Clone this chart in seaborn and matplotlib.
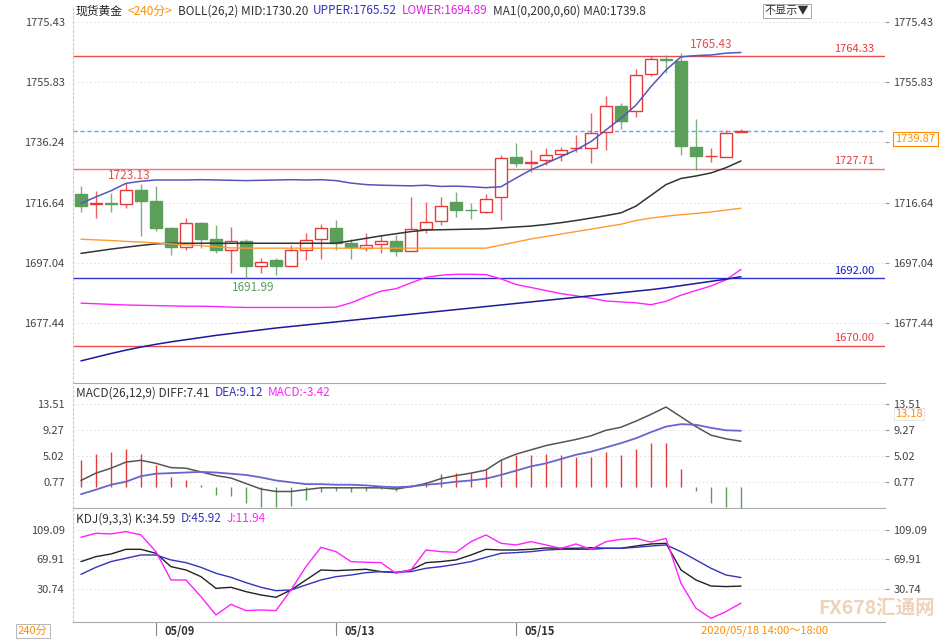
import numpy as np
import pandas as pd
import matplotlib
matplotlib.use("Agg")
import matplotlib.pyplot as plt
import seaborn as sns

sns.set_style("white")
plt.rcParams['font.family'] = ['Noto Sans CJK SC', 'DejaVu Sans']

# ---- candle data (240-minute bars) ----
opens = [1719.4, 1716.3, 1716.5, 1716.2, 1720.9, 1717.1, 1708.3, 1702.3, 1709.9, 1704.7,
         1701.2, 1704.0, 1696.1, 1697.9, 1696.1, 1701.2, 1704.7, 1708.3, 1703.4, 1701.8,
         1703.1, 1704.2, 1701.0, 1707.9, 1710.6, 1716.7, 1714.3, 1713.7, 1718.4, 1731.4,
         1729.5, 1730.5, 1732.5, 1734.3, 1734.3, 1739.7, 1748.1, 1746.5, 1758.4, 1763.4,
         1762.8, 1734.9, 1731.7, 1731.4, 1739.5]
closes = [1715.6, 1716.5, 1716.3, 1720.9, 1717.2, 1708.3, 1702.3, 1709.9, 1704.8, 1701.2,
          1704.0, 1696.0, 1697.2, 1696.1, 1701.2, 1704.5, 1708.3, 1703.6, 1702.3, 1702.9,
          1704.2, 1701.0, 1707.9, 1710.4, 1715.6, 1714.2, 1714.1, 1717.9, 1731.1, 1729.4,
          1729.8, 1732.1, 1733.8, 1734.5, 1739.4, 1748.1, 1743.2, 1758.2, 1763.3, 1763.1,
          1735.1, 1731.8, 1731.9, 1739.4, 1739.87]
highs = [1722.0, 1720.5, 1719.9, 1723.13, 1722.7, 1722.0, 1708.8, 1711.5, 1710.4, 1709.4,
         1708.6, 1704.7, 1698.5, 1698.5, 1702.8, 1706.9, 1709.7, 1711.0, 1704.8, 1706.6,
         1706.1, 1706.1, 1718.6, 1716.7, 1718.6, 1720.2, 1716.4, 1719.4, 1732.1, 1736.2,
         1733.8, 1734.3, 1734.9, 1738.6, 1745.7, 1751.3, 1749.0, 1760.0, 1764.4, 1764.7,
         1765.43, 1743.7, 1734.3, 1740.3, 1740.5]
lows = [1713.7, 1711.7, 1713.7, 1715.0, 1705.8, 1707.4, 1699.6, 1701.2, 1701.8, 1700.1,
        1693.8, 1691.99, 1693.8, 1693.1, 1696.1, 1698.0, 1698.2, 1701.2, 1698.2, 1701.0,
        1700.1, 1699.3, 1701.0, 1706.6, 1709.3, 1712.1, 1711.3, 1713.1, 1711.0, 1728.3,
        1726.7, 1728.9, 1730.3, 1733.2, 1729.6, 1733.8, 1740.5, 1744.4, 1757.9, 1758.7,
        1732.1, 1727.3, 1730.0, 1731.4, 1739.5]

boll_upper = [1716.4, 1718.5, 1720.5, 1722.9, 1723.6, 1724.0, 1724.0, 1724.0, 1724.1, 1724.0,
              1723.9, 1723.8, 1723.9, 1724.0, 1724.1, 1724.0, 1724.1, 1723.8, 1723.0, 1722.5,
              1722.3, 1722.2, 1722.1, 1722.3, 1721.9, 1722.0, 1721.8, 1721.5, 1721.8, 1724.6,
              1727.3, 1729.4, 1731.6, 1733.8, 1736.5, 1740.3, 1744.1, 1748.4, 1754.4, 1759.8,
              1764.1, 1764.5, 1764.7, 1765.3, 1765.52]
boll_mid = [1700.1, 1700.8, 1701.5, 1702.1, 1702.7, 1703.2, 1703.4, 1703.4, 1703.4, 1703.4,
            1703.4, 1703.4, 1703.4, 1703.4, 1703.4, 1703.4, 1703.4, 1703.4, 1704.2, 1705.0,
            1705.8, 1706.5, 1707.2, 1707.7, 1707.8, 1707.9, 1708.0, 1708.1, 1708.4, 1708.7,
            1709.0, 1709.5, 1710.1, 1710.8, 1711.6, 1712.4, 1713.3, 1715.5, 1719.0, 1722.5,
            1724.5, 1725.3, 1726.3, 1728.0, 1730.2]
boll_lower = [1683.9, 1683.7, 1683.5, 1683.3, 1683.2, 1683.1, 1683.0, 1682.9, 1682.9, 1682.8,
              1682.6, 1682.5, 1682.5, 1682.5, 1682.5, 1682.5, 1682.5, 1682.6, 1684.0, 1686.0,
              1687.8, 1688.6, 1690.5, 1692.3, 1693.0, 1693.3, 1693.3, 1693.2, 1691.8, 1690.0,
              1689.0, 1688.0, 1687.0, 1686.3, 1685.5, 1684.6, 1684.3, 1684.0, 1683.4, 1684.5,
              1686.5, 1688.0, 1689.5, 1691.5, 1694.89]
ma_orange = [1704.7, 1704.5, 1704.3, 1704.0, 1703.8, 1703.5, 1703.2, 1702.9, 1702.6, 1702.2,
             1701.9, 1701.8, 1701.8, 1701.8, 1701.8, 1701.8, 1701.8, 1701.8, 1701.8, 1701.8,
             1701.8, 1701.8, 1701.8, 1701.8, 1701.8, 1701.8, 1701.8, 1701.8, 1702.8, 1703.8,
             1704.8, 1705.6, 1706.4, 1707.2, 1708.0, 1708.8, 1709.6, 1710.8, 1711.6, 1712.2,
             1712.7, 1713.1, 1713.6, 1714.2, 1714.8]
ma_navy = [1665.1, 1666.3, 1667.5, 1668.6, 1669.6, 1670.5, 1671.3, 1672.0, 1672.7, 1673.4,
           1674.0, 1674.6, 1675.2, 1675.8, 1676.3, 1676.8, 1677.3, 1677.8, 1678.3, 1678.8,
           1679.3, 1679.8, 1680.3, 1680.8, 1681.3, 1681.8, 1682.3, 1682.8, 1683.3, 1683.8,
           1684.3, 1684.8, 1685.3, 1685.8, 1686.3, 1686.8, 1687.3, 1687.8, 1688.3, 1688.9,
           1689.6, 1690.3, 1691.0, 1691.7, 1692.5]

# ---- MACD ----
macd_hist = [4.3, 5.3, 5.6, 6.1, 5.4, 3.6, 1.5, 1.1, 0.2, -1.4,
             -1.6, -2.7, -3.3, -3.4, -3.1, -2.2, -0.9, -0.8, -0.9, -0.7,
             -0.4, -0.8, 0.3, 0.8, 2.0, 2.3, 2.3, 2.7, 4.3, 5.1,
             5.2, 5.3, 5.1, 4.8, 4.9, 5.6, 5.2, 6.1, 7.1, 7.1,
             2.8, -0.7, -2.7, -3.3, -3.42]
macd_diff = [1.0, 2.2, 3.0, 4.0, 4.3, 3.8, 3.1, 3.0, 2.4, 1.8,
             1.4, 0.5, -0.4, -0.8, -0.8, -0.5, -0.2, -0.2, -0.2, -0.2,
             -0.2, -0.4, 0.0, 0.5, 1.3, 1.8, 2.2, 2.7, 4.3, 5.3,
             6.0, 6.7, 7.2, 7.7, 8.3, 9.2, 9.7, 10.7, 11.8, 13.0,
             11.4, 9.8, 8.4, 7.8, 7.41]
macd_dea = [-1.25, -0.5, 0.3, 0.8, 1.7, 2.1, 2.2, 2.3, 2.4, 2.3,
            2.1, 1.9, 1.5, 1.0, 0.7, 0.4, 0.4, 0.3, 0.3, 0.2,
            0.0, -0.1, 0.0, 0.3, 0.5, 0.8, 1.0, 1.3, 1.9, 2.6,
            3.3, 3.8, 4.5, 5.2, 5.7, 6.4, 7.1, 7.9, 8.9, 9.8,
            10.2, 10.1, 9.6, 9.2, 9.12]

# ---- KDJ ----
kdj_k = [67.1, 73.7, 77.2, 83.4, 83.4, 78.1, 60.4, 56.0, 47.1, 31.6,
         33.0, 27.2, 22.8, 19.7, 29.4, 42.7, 56.0, 55.1, 56.0, 56.9,
         53.8, 52.4, 56.0, 65.7, 67.1, 69.3, 75.9, 83.4, 82.5, 82.5,
         83.4, 85.2, 84.8, 84.8, 85.6, 84.8, 84.8, 87.8, 90.5, 91.4,
         56.0, 42.7, 34.7, 33.9, 34.59]
kdj_d = [50.2, 59.5, 67.1, 71.5, 75.9, 75.9, 69.3, 65.7, 59.5, 51.6,
         46.2, 39.2, 33.0, 28.5, 29.4, 36.1, 42.7, 47.1, 49.3, 52.4,
         53.8, 52.9, 53.8, 58.2, 60.4, 63.5, 67.1, 72.8, 78.1, 79.0,
         80.3, 82.5, 83.4, 83.4, 83.4, 84.7, 84.7, 86.1, 87.8, 89.2,
         80.3, 69.3, 58.2, 49.3, 45.92]
kdj_j = [99.4, 104.7, 103.8, 106.9, 102.5, 80.3, 42.7, 42.7, 20.6, -3.8,
         10.4, 2.0, 2.9, 2.0, 29.4, 60.4, 86.1, 80.3, 67.1, 66.2,
         65.7, 51.6, 56.0, 82.5, 80.3, 79.4, 93.6, 102.5, 91.4, 89.2,
         93.6, 89.2, 84.7, 90.5, 83.4, 93.6, 96.7, 98.0, 93.0, 98.0,
         38.3, 5.1, -8.2, 0.7, 11.94]

price_ticks = [1775.43, 1755.83, 1736.24, 1716.64, 1697.04, 1677.44]
macd_ticks = [13.51, 9.27, 5.02, 0.77]
kdj_ticks = [109.09, 69.91, 30.74]
date_labels = ["05/09", "05/13", "05/15"]
date_pos = [5, 17, 29]

RED = "#e8393a"
GREEN = "#5b9f5b"
GREY = "#444444"

n = len(opens)
idx = np.arange(n)
df = pd.DataFrame({"i": idx, "o": opens, "c": closes, "h": highs, "l": lows,
                   "upper": boll_upper, "mid": boll_mid, "lower": boll_lower,
                   "ma1": ma_orange, "ma0": ma_navy, "macd": macd_hist,
                   "diff": macd_diff, "dea": macd_dea, "k": kdj_k, "d": kdj_d, "j": kdj_j})

W, H = 953, 640
fig = plt.figure(figsize=(W / 100, H / 100), dpi=100)
def box(l, t, r, b):
    return [l / W, 1 - b / H, (r - l) / W, (b - t) / H]

ax = fig.add_axes(box(73, 8, 885, 383))
ax2 = fig.add_axes(box(73, 385, 885, 508))
ax3 = fig.add_axes(box(73, 510, 885, 622))
xlim = (-0.53, 53.6)

# main candles
for _, r in df.iterrows():
    up = r["c"] >= r["o"]
    c = RED if up else GREEN
    lo, hi = min(r["o"], r["c"]), max(r["o"], r["c"])
    ax.vlines(r["i"], r["l"], lo, color=c, lw=1, alpha=0.8, zorder=3)
    ax.vlines(r["i"], hi, r["h"], color=c, lw=1, alpha=0.8, zorder=3)
    h = max(hi - lo, 0.15)
    ax.bar(r["i"], h, bottom=lo, width=0.75, color="white" if up else GREEN,
           edgecolor=c, linewidth=1, zorder=4)

sns.lineplot(data=df, x="i", y="upper", ax=ax, color="#5555bb", lw=1.1, zorder=5)
sns.lineplot(data=df, x="i", y="mid", ax=ax, color="#333333", lw=1.1, zorder=5)
sns.lineplot(data=df, x="i", y="lower", ax=ax, color="#ff22ff", lw=1, zorder=5)
sns.lineplot(data=df, x="i", y="ma1", ax=ax, color="#ff9a33", lw=1, zorder=5)
sns.lineplot(data=df, x="i", y="ma0", ax=ax, color="#1a1a99", lw=1.1, zorder=5)

for lvl, col in [(1764.33, RED), (1727.71, RED), (1670.00, RED), (1692.00, "#1a1acc")]:
    ax.axhline(lvl, color=col, lw=1, alpha=0.9 if lvl != 1727.71 else 0.7, zorder=2)
    ax.text(52.9, lvl + 0.8, f"{lvl:.2f}", color=col, fontsize=8, ha="right", va="bottom")
ax.axhline(1739.87, color="#55aaff", lw=1, ls=(0, (3, 2)), zorder=2)
ax.text(3.2, 1723.4, "1723.13", color="#e05050", fontsize=8.5, ha="center", va="bottom")
ax.text(11.5, 1691.0, "1691.99", color="#5b9f5b", fontsize=8.5, ha="center", va="top")
ax.text(40.6, 1766.0, "1765.43", color="#e05050", fontsize=8.5, ha="left", va="bottom")
ax.set_ylim(1657.9, 1780.0)

# MACD
for _, r in df.iterrows():
    ax2.vlines(r["i"], 0, r["macd"], color=RED if r["macd"] > 0 else GREEN, lw=1, zorder=3)
sns.lineplot(data=df, x="i", y="diff", ax=ax2, color="#555555", lw=1.1, zorder=4)
sns.lineplot(data=df, x="i", y="dea", ax=ax2, color="#6666cc", lw=1.3, zorder=4)
ax2.set_ylim(-3.5, 16.6)

# KDJ
sns.lineplot(data=df, x="i", y="k", ax=ax3, color="#222222", lw=1, zorder=4)
sns.lineplot(data=df, x="i", y="d", ax=ax3, color="#3333bb", lw=1, zorder=4)
sns.lineplot(data=df, x="i", y="j", ax=ax3, color="#ff22ff", lw=1, zorder=4)
ax3.set_ylim(-13.1, 135.6)

for a, ticks in [(ax, price_ticks), (ax2, macd_ticks), (ax3, kdj_ticks)]:
    a.set_xlim(*xlim)
    a.set_xlabel("")
    a.set_ylabel("")
    a.set_xticks([])
    a.set_yticks(ticks)
    a.set_yticklabels([f"{t:.2f}" for t in ticks], fontsize=8, color=GREY)
    a.tick_params(axis="y", length=3, color="#999999", pad=3, labelright=True, right=True)
    for t in ticks:
        a.axhline(t, color="#dddddd", lw=0.6, ls=(0, (2, 3)), zorder=0)
    for s in ["top", "right"]:
        a.spines[s].set_visible(False)
    a.spines["bottom"].set_color("#aaaaaa")
    a.spines["left"].set_color("#cccccc")
    a.spines["left"].set_linestyle((0, (2, 2)))

# hide the right-hand 1736.24 label (covered by the last-price tag)
ax.yaxis.get_major_ticks()[2].label2.set_visible(False)

# right-hand value tags
ax.text(54.3, 1739.87 - 2.5, "1739.87", fontsize=8, color="#ff8c00", va="center",
        bbox=dict(facecolor="white", edgecolor="#ff8c00", lw=0.8, pad=1.5))
ax2.text(54.3, 11.9, "13.18", fontsize=8, color="#ff8c00", va="center", zorder=10,
         bbox=dict(facecolor="white", edgecolor="#e0e0e0", lw=0.6, pad=0.8))

# date axis
for p, lab in zip(date_pos, date_labels):
    ax3.axvline(p, ymin=-0.12, ymax=0, color="#888888", lw=0.8, clip_on=False)
    ax3.text(p + 0.6, -26, lab, fontsize=8, color="#333333", fontweight="bold",
             ha="left", va="center")
fig.text(828 / W, 1 - 631 / H, "2020/05/18 14:00～18:00", fontsize=8, color="#ff8c00",
         ha="right", va="center")
fig.text(18 / W, 1 - 631 / H, "240分", fontsize=8, color="#ff8c00", ha="left", va="center",
         bbox=dict(facecolor="white", edgecolor="#aaaaaa", lw=0.6, pad=1.5))

# header legends
def row(y, parts, x0=76):
    x = x0
    r = fig.canvas.get_renderer()
    for txt, col in parts:
        t = fig.text(x / W, 1 - y / H, txt, fontsize=8.5, color=col, va="center")
        x += t.get_window_extent(renderer=r).width + 5
row(11, [("现货黄金", "#222222"), ("<240分>", "#ff8c00"), ("BOLL(26,2) MID:1730.20", "#333333"),
         ("UPPER:1765.52", "#3333bb"), ("LOWER:1694.89", "#dd22dd"),
         ("MA1(0,200,0,60) MA0:1739.8", "#333333")])
row(393, [("MACD(26,12,9) DIFF:7.41", "#333333"), ("DEA:9.12", "#3333bb"),
          ("MACD:-3.42", "#ff22ff")])
row(519, [("KDJ(9,3,3) K:34.59", "#333333"), ("D:45.92", "#3333bb"), ("J:11.94", "#ff22ff")])
fig.text(765 / W, 1 - 11 / H, "不显示▼", fontsize=8, color="#333333", va="center",
         bbox=dict(facecolor="white", edgecolor="#999999", lw=0.6, pad=1.2))
fig.text(935 / W, 1 - 608 / H, "FX678汇通网", fontsize=14, color="#e8c9a8",
         ha="right", va="center", fontweight="bold", alpha=0.8)

fig.savefig("out.png", dpi=100)
